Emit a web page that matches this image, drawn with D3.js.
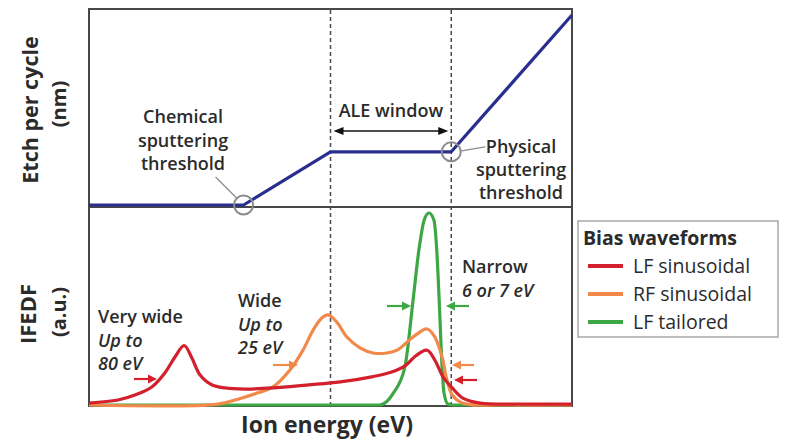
<!DOCTYPE html>
<html>
<head>
<meta charset="utf-8">
<script src="https://cdn.jsdelivr.net/npm/d3@7"></script>
<style>
  body { margin: 0; background: #fff; }
  svg { display: block; }
  text { font-family: "Open Sans", "Noto Sans", sans-serif; fill: #2b2b2b; }
</style>
</head>
<body>
<svg id="chart" width="787" height="444"></svg>
<script>
// ---- data -------------------------------------------------------------
const energyDomain = [0, 100];       // ion energy, arbitrary units
const etchDomain = [0, 10];          // etch per cycle, arbitrary units
const ifedfDomain = [0, 1];          // IFEDF, normalised

// etch per cycle vs ion energy: flat, chemical rise, ALE plateau, physical sputtering
const etchCurve = [[0, 0], [32, 0], [50, 2.8], [75, 2.8], [100, 10]];
const aleWindow = [50, 75];
const chemicalThreshold = [32, 0];
const physicalThreshold = [75, 2.8];

const seriesNames = ["LF sinusoidal", "RF sinusoidal", "LF tailored"];
const seriesColors = ["#d3202d", "#f0894a", "#3da744"];

// ion energy distribution functions [energy, IFEDF]
const lfSinusoidal = [
  [0, 0.01], [6, 0.026], [9.5, 0.052], [13, 0.094], [15.7, 0.167], [17.8, 0.25],
  [19.7, 0.31], [21.3, 0.245], [23, 0.156], [25.5, 0.104], [28.2, 0.089],
  [32.3, 0.083], [38.1, 0.089], [45.1, 0.104], [52, 0.12], [58.8, 0.148],
  [62.5, 0.17], [65.5, 0.205], [67.6, 0.255], [70, 0.285], [71.6, 0.234], [73.3, 0.146],
  [75.2, 0.089], [77.4, 0.036], [81, 0.01], [90, 0.005], [100, 0.005]
];
const rfSinusoidal = [
  [0, 0], [26.7, 0.005], [31.3, 0.034], [34.8, 0.062], [38.1, 0.094], [41.6, 0.182],
  [44.3, 0.286], [46.4, 0.39], [48.2, 0.453], [49.5, 0.469], [51.3, 0.432],
  [53.4, 0.354], [56.1, 0.297], [58.8, 0.271], [61.7, 0.271], [63.8, 0.286],
  [67.1, 0.354], [70, 0.396], [71.6, 0.354], [73.1, 0.25], [74.1, 0.13],
  [75.2, 0.052], [76.8, 0.016], [78.9, 0.002], [85, 0], [100, 0]
];
const lfTailored = [
  [0, 0], [60.2, 0], [60.9, 0.005], [63, 0.062], [65.4, 0.198], [67.1, 0.547],
  [68.3, 0.807], [69.4, 0.964], [70.4, 1.0], [71.4, 0.964], [72, 0.807],
  [72.5, 0.547], [73.1, 0.198], [73.5, 0.062], [74.3, 0.005], [75.2, 0], [100, 0]
];
const seriesData = [lfSinusoidal, rfSinusoidal, lfTailored];

// ---- scales -----------------------------------------------------------
const svg = d3.select("#chart");
const x = d3.scaleLinear().domain(energyDomain).range([89, 572]);
const yEtch = d3.scaleLinear().domain(etchDomain).range([205, 15]);
const yIfedf = d3.scaleLinear().domain(ifedfDomain).range([405, 213]);

const frameColor = "#474747";

// ---- panel frames -----------------------------------------------------
svg.append("rect").attr("x", x(0)).attr("y", 9).attr("width", x(100) - x(0)).attr("height", 198)
  .attr("fill", "none").attr("stroke", frameColor).attr("stroke-width", 2);
svg.append("rect").attr("x", x(0)).attr("y", 207).attr("width", x(100) - x(0)).attr("height", 199)
  .attr("fill", "none").attr("stroke", frameColor).attr("stroke-width", 2);

// ALE window boundaries
svg.selectAll("line.edge").data(aleWindow).join("line")
  .attr("class", "edge")
  .attr("x1", d => x(d)).attr("x2", d => x(d))
  .attr("y1", 10).attr("y2", 405)
  .attr("stroke", "#4a4a4a").attr("stroke-width", 1.5)
  .attr("stroke-dasharray", "4,3");

// ---- helpers ----------------------------------------------------------
function arrowHead(g, tipX, tipY, dir, color, len, half) {
  g.append("path")
    .attr("d", `M${tipX},${tipY} L${tipX - dir * len},${tipY - half} L${tipX - dir * len},${tipY + half} Z`)
    .attr("fill", color);
}
function arrow(fromX, toX, yPos, color) {
  const dir = toX > fromX ? 1 : -1;
  const g = svg.append("g");
  g.append("line").attr("x1", fromX).attr("x2", toX - dir * 6).attr("y1", yPos).attr("y2", yPos)
    .attr("stroke", color).attr("stroke-width", 2.2);
  arrowHead(g, toX, yPos, dir, color, 9, 4.5);
}
function textBlock(lines, xPos, baselines, anchor) {
  lines.forEach((ln, i) => {
    svg.append("text")
      .attr("x", xPos).attr("y", baselines[i])
      .attr("text-anchor", anchor)
      .attr("font-size", ln.size || 18)
      .attr("font-weight", ln.weight || 600)
      .attr("font-style", ln.italic ? "italic" : "normal")
      .text(ln.t);
  });
}

// ---- top panel: etch per cycle ----------------------------------------
svg.append("path").datum(etchCurve)
  .attr("d", d3.line().x(d => x(d[0])).y(d => yEtch(d[1])))
  .attr("fill", "none").attr("stroke", "#2a2f8f").attr("stroke-width", 3.2)
  .attr("stroke-linejoin", "round");

[chemicalThreshold, physicalThreshold].forEach(p => {
  svg.append("circle").attr("cx", x(p[0])).attr("cy", yEtch(p[1])).attr("r", 9.5)
    .attr("fill", "none").attr("stroke", "#8c8c8c").attr("stroke-width", 2);
});
// leader lines
svg.append("line")
  .attr("x1", x(chemicalThreshold[0]) - 7).attr("y1", yEtch(chemicalThreshold[1]) - 7)
  .attr("x2", x(chemicalThreshold[0]) - 28).attr("y2", yEtch(chemicalThreshold[1]) - 28)
  .attr("stroke", "#8c8c8c").attr("stroke-width", 1.3);
svg.append("line")
  .attr("x1", x(physicalThreshold[0]) + 10).attr("y1", yEtch(physicalThreshold[1]) - 1)
  .attr("x2", x(physicalThreshold[0]) + 34).attr("y2", yEtch(physicalThreshold[1]) - 5)
  .attr("stroke", "#8c8c8c").attr("stroke-width", 1.3);

textBlock([{ t: "Chemical" }, { t: "sputtering" }, { t: "threshold" }], 183, [123, 147, 170], "middle");
textBlock([{ t: "Physical" }, { t: "sputtering" }, { t: "threshold" }], 521, [153, 176, 199], "middle");
textBlock([{ t: "ALE window" }], (x(aleWindow[0]) + x(aleWindow[1])) / 2, [117], "middle");

// double-headed ALE window arrow
{
  const g = svg.append("g");
  const y0 = 131, a = x(aleWindow[0]) + 3, b = x(aleWindow[1]) - 3;
  g.append("line").attr("x1", a + 6).attr("x2", b - 6).attr("y1", y0).attr("y2", y0)
    .attr("stroke", "#111").attr("stroke-width", 1.6);
  arrowHead(g, a, y0, -1, "#111", 10, 4);
  arrowHead(g, b, y0, 1, "#111", 10, 4);
}

// ---- bottom panel: IFEDF ---------------------------------------------
const smooth = d3.line().x(d => x(d[0])).y(d => yIfedf(d[1])).curve(d3.curveCatmullRom.alpha(0.5));
const steep = d3.line().x(d => x(d[0])).y(d => yIfedf(d[1])).curve(d3.curveMonotoneX);
[2, 1, 0].forEach(i => {
  svg.append("path").datum(seriesData[i])
    .attr("d", i === 2 ? steep : smooth)
    .attr("fill", "none").attr("stroke", seriesColors[i]).attr("stroke-width", 3.2)
    .attr("stroke-linejoin", "round");
});

textBlock([{ t: "Very wide" }, { t: "Up to", italic: true }, { t: "80 eV", italic: true }], 98, [323, 347, 370], "start");
textBlock([{ t: "Wide" }, { t: "Up to", italic: true }, { t: "25 eV", italic: true }], 238, [307, 331, 354], "start");
textBlock([{ t: "Narrow" }, { t: "6 or 7 eV", italic: true }], 462, [273, 297], "start");

arrow(134, 157, 379, seriesColors[0]);
arrow(273, 298, 365, seriesColors[1]);
arrow(387, 411, 306, seriesColors[2]);
arrow(469, 446, 306, seriesColors[2]);
arrow(474, 452, 365, seriesColors[1]);
arrow(477, 454, 380, seriesColors[0]);

// ---- axis titles ------------------------------------------------------
function vTitle(t, cx, cy, size) {
  svg.append("text").attr("transform", `translate(${cx},${cy}) rotate(-90)`)
    .attr("text-anchor", "middle").attr("font-size", size).attr("font-weight", 700)
    .attr("fill", "#222").text(t);
}
vTitle("Etch per cycle", 38, 110, 21.5);
vTitle("(nm)", 66, 104, 20);
vTitle("IFEDF", 36, 314, 22);
vTitle("(a.u.)", 66, 312, 20);

svg.append("text").attr("x", 327).attr("y", 433).attr("text-anchor", "middle")
  .attr("font-size", 23).attr("font-weight", 700).attr("fill", "#222").text("Ion energy (eV)");

// ---- legend -----------------------------------------------------------
const legend = svg.append("g").attr("transform", "translate(578,221)");
legend.append("rect").attr("width", 200).attr("height", 116)
  .attr("fill", "#fff").attr("stroke", "#a8a8a8").attr("stroke-width", 1.5);
legend.append("text").attr("x", 5).attr("y", 24).attr("font-size", 19.5).attr("font-weight", 700)
  .attr("fill", "#222").text("Bias waveforms");
const items = legend.selectAll("g.item").data(seriesNames).join("g")
  .attr("class", "item")
  .attr("transform", (d, i) => `translate(0,${45 + i * 28})`);
items.append("line").attr("x1", 10).attr("x2", 45).attr("y1", 0).attr("y2", 0)
  .attr("stroke", (d, i) => seriesColors[i]).attr("stroke-width", 4);
items.append("text").attr("x", 55).attr("y", 7).attr("font-size", 19.5).attr("font-weight", 400)
  .text(d => d);
</script>
</body>
</html>
